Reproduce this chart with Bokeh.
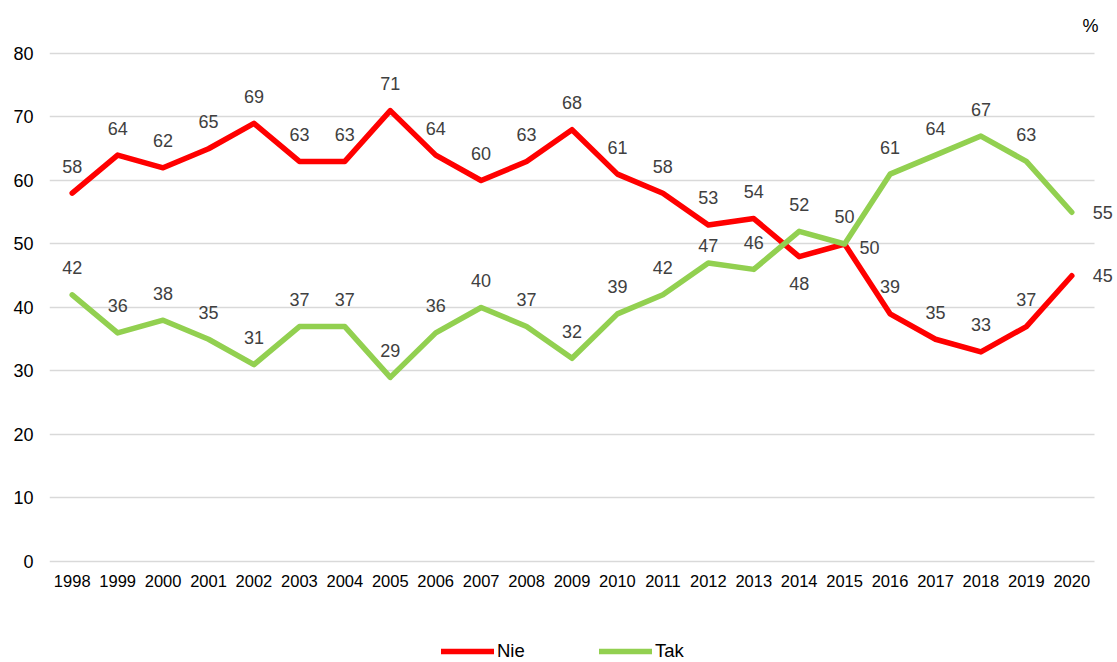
from bokeh.plotting import figure
from bokeh.models import (ColumnDataSource, Range1d, FixedTicker,
                          LabelSet, Label, Legend, LegendItem)
from bokeh.core.properties import value
from bokeh.embed import file_html
from bokeh.resources import INLINE

years = [str(y) for y in range(1998, 2021)]
nie = [58, 64, 62, 65, 69, 63, 63, 71, 64, 60, 63, 68, 61, 58, 53, 54, 48, 50, 39, 35, 33, 37, 45]
tak = [42, 36, 38, 35, 31, 37, 37, 29, 36, 40, 37, 32, 39, 42, 47, 46, 52, 50, 61, 64, 67, 63, 55]
y_ticks = [0, 10, 20, 30, 40, 50, 60, 70, 80]

# label placement styles (not data)
nie_place = ["above"] * 16 + ["below", "right_low"] + ["above"] * 4 + ["right"]
tak_place = ["above"] * 14 + ["above_close"] + ["above"] * 7 + ["right"]
offsets = {"above": (0, 27), "below": (0, -27), "right": (31, 0),
           "right_low": (25, -4), "above_close": (0, 18)}

RED = "#FF0000"
GREEN = "#92D050"
FONT = "Liberation Sans"

idx = list(range(len(years)))
n = len(years)

p = figure(width=1117, height=662,
           x_range=Range1d(-0.5, n - 0.5 + 0.506),
           y_range=Range1d(-15.906, 88.346), output_backend="svg", toolbar_location=None,
           min_border_left=49, min_border_right=0, min_border_top=0,
           min_border_bottom=0)
p.outline_line_color = None
p.xgrid.grid_line_color = None
p.ygrid.grid_line_color = "#D9D9D9"
p.ygrid.grid_line_width = 1.5
p.ygrid.cross_bounds = (-0.5, n - 0.5)
p.ygrid.ticker = FixedTicker(ticks=y_ticks)
p.yaxis.ticker = FixedTicker(ticks=y_ticks)
p.xaxis.ticker = FixedTicker(ticks=idx)
p.xaxis.major_label_overrides = {i: y for i, y in zip(idx, years)}
p.xaxis.fixed_location = 0

for ax in (p.xaxis, p.yaxis):
    ax.axis_line_color = None
    ax.major_tick_line_color = None
    ax.minor_tick_line_color = None
    ax.major_tick_out = 0
    ax.major_tick_in = 0
    ax.major_label_text_font = FONT
    ax.major_label_text_color = "#000000"
p.yaxis.major_label_text_font_size = "18px"
p.yaxis.major_label_standoff = 16
p.xaxis.major_label_text_font_size = "16.5px"
p.xaxis.major_label_standoff = 14

src = ColumnDataSource(dict(x=idx, nie=nie, tak=tak))
r_nie = p.line("x", "nie", source=src, line_color=RED, line_width=5.5,
               line_join="round", line_cap="round")
r_tak = p.line("x", "tak", source=src, line_color=GREEN, line_width=5.5,
               line_join="round", line_cap="round")

def add_labels(vals, places):
    xs, ys, txt, xo, yo = [], [], [], [], []
    for i, v, pl in zip(idx, vals, places):
        dx, dy = offsets[pl]
        xs.append(i); ys.append(v); txt.append(str(v)); xo.append(dx); yo.append(dy)
    s = ColumnDataSource(dict(x=xs, y=ys, t=txt, xo=xo, yo=yo))
    p.add_layout(LabelSet(x="x", y="y", text="t", source=s, x_offset="xo", y_offset="yo",
                          text_align="center", text_baseline="middle",
                          text_font=value(FONT), text_font_size=value("18px"),
                          text_color="#404040"))

add_labels(nie, nie_place)
add_labels(tak, tak_place)

p.add_layout(Label(x=22.41, y=84.4, text="%", text_align="center", text_baseline="middle",
                   text_font=FONT, text_font_size="18px", text_color="#000000"))

legend = Legend(items=[LegendItem(label="Nie", renderers=[r_nie]),
                       LegendItem(label="Tak", renderers=[r_tak])],
                location=(392, 0), orientation="horizontal",
                glyph_width=53, glyph_height=20, label_standoff=3, label_width=70,
                spacing=32, padding=0, margin=0, border_line_color=None,
                background_fill_alpha=0, label_text_font=FONT,
                label_text_font_size="18.5px", label_text_color="#000000")
p.add_layout(legend, "center")

open("out.html", "w").write(file_html(p, INLINE))
